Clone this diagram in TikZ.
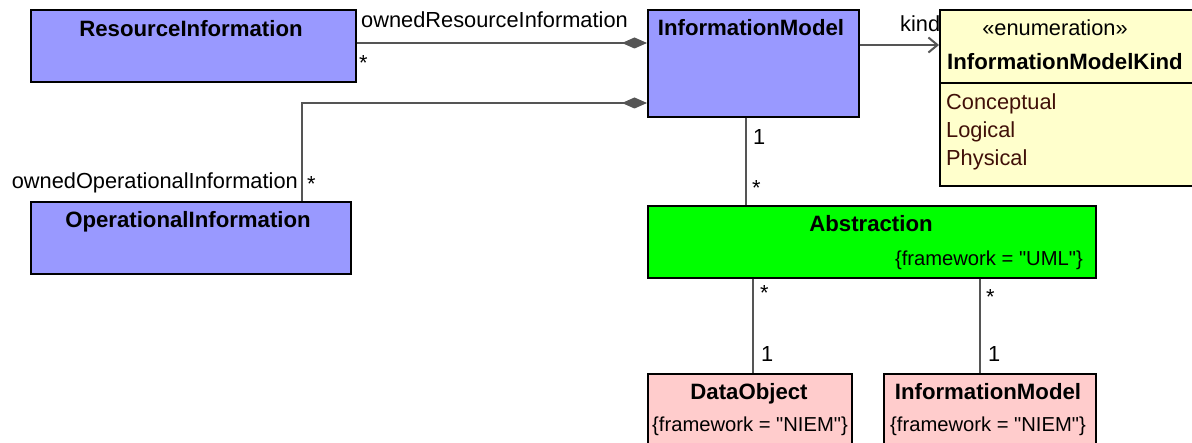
\documentclass[tikz,border=0pt]{standalone}
\usepackage{fontspec}
\setmainfont{Liberation Sans}
\usetikzlibrary{arrows.meta}
\definecolor{umlblue}{RGB}{153,153,255}
\definecolor{umlgreen}{RGB}{0,255,0}
\definecolor{umlyellow}{RGB}{255,255,204}
\definecolor{umlpink}{RGB}{255,204,204}
\definecolor{linegray}{RGB}{85,85,85}
\definecolor{litcolor}{RGB}{64,16,8}
\newcommand{\qq}{\textquotedbl}
\begin{document}
\begin{tikzpicture}[x=1pt,y=-1pt,
  box/.style={draw=black, line width=1.6pt, inner sep=0pt, anchor=north west},
  bluebox/.style={box, fill=umlblue},
  greenbox/.style={box, fill=umlgreen},
  yellowbox/.style={box, fill=umlyellow},
  pinkbox/.style={box, fill=umlpink},
  title/.style={inner sep=0pt, anchor=base, font=\fontsize{22.2}{26}\selectfont\bfseries},
  lbl/.style={inner sep=0pt, anchor=base west, font=\fontsize{21.8}{25}\selectfont},
  cons/.style={inner sep=0pt, anchor=base, font=\fontsize{20.2}{24}\selectfont},
  lit/.style={inner sep=0pt, anchor=base west, text=litcolor, font=\fontsize{21.8}{25}\selectfont},
  conn/.style={draw=linegray, line width=2pt},
  comp/.style={conn, -{Diamond[length=25pt,width=11pt,line width=1pt,fill=linegray]}},
  nav/.style={conn, -{Straight Barb[length=9pt,width=15pt,line width=2pt]}}
]
\useasboundingbox (0,0) rectangle (1192,443);
\clip (0,0) rectangle (1192,443);
\fill[white] (0,0) rectangle (1192,443);

% boxes
\node[bluebox, minimum width=325pt, minimum height=72pt] (ri) at (30,9) {};
\node[bluebox, minimum width=320pt, minimum height=72pt] (oi) at (30,201) {};
\node[bluebox, minimum width=211pt, minimum height=107pt] (im) at (647,9) {};
\node[yellowbox, minimum width=290pt, minimum height=176pt] (enum) at (939,9) {};
\node[greenbox, minimum width=448pt, minimum height=72pt] (abs) at (647,205) {};
\node[pinkbox, minimum width=204pt, minimum height=90pt] (do) at (647,373) {};
\node[pinkbox, minimum width=212pt, minimum height=90pt] (im2) at (883,373) {};
\coordinate (divL) at (939,83);
\draw[line width=1.6pt] (divL) -- (divL -| enum.east);

% texts in boxes
\node[title] (tri) at (191,37) {ResourceInformation};
\node[title] (tim) at (751,36) {InformationModel};
\node[title] (toi) at (188,228) {OperationalInformation};
\node[title] (tabs) at (871,232) {Abstraction};
\node[cons, anchor=base east] (cabs) at (1083,266) {\{framework = \qq UML\qq\}};
\node[title] (tdo) at (749,400) {DataObject};
\node[cons] (cdo) at (750,432) {\{framework = \qq NIEM\qq\}};
\node[title] (tim2) at (988,400) {InformationModel};
\node[cons] (cim2) at (988,432) {\{framework = \qq NIEM\qq\}};
\node[inner sep=0pt, anchor=base, font=\fontsize{21.8}{25}\selectfont] (ster) at (1055,36) {«enumeration»};
\node[title] (tenum) at (1065,70) {InformationModelKind};
\node[lit] (l1) at (946,110) {Conceptual};
\node[lit] (l2) at (946,138) {Logical};
\node[lit] (l3) at (946,166) {Physical};

% connectors
\coordinate (yA) at (0,43);
\draw[comp] (ri.east |- yA) -- (im.west |- yA);
\coordinate (bend) at (302,103);
\draw[comp] (bend |- oi.north) -- (bend) -- (bend -| im.west);
\coordinate (yK) at (0,45);
\draw[nav] (im.east |- yK) -- (enum.west |- yK);
\coordinate (xA) at (746,0);
\draw[conn] (xA |- im.south) -- (xA |- abs.north);
\coordinate (xB) at (753,0);
\draw[conn] (xB |- abs.south) -- (xB |- do.north);
\coordinate (xC) at (980,0);
\draw[conn] (xC |- abs.south) -- (xC |- im2.north);

% labels
\node[lbl] (lri) at (361,28) {ownedResourceInformation};
\node[lbl] (mri) at (359,71) {*};
\node[lbl, anchor=base east] (loi) at (298,189) {ownedOperationalInformation};
\node[lbl] (moi) at (307,192) {*};
\node[lbl] (lk) at (900,32) {kind};
\node[lbl] (m1) at (753,145) {1};
\node[lbl] (m2) at (752,196) {*};
\node[lbl] (m3) at (760,301) {*};
\node[lbl] (m4) at (761,362) {1};
\node[lbl] (m5) at (986,305) {*};
\node[lbl] (m6) at (988,362) {1};
\end{tikzpicture}
\end{document}
